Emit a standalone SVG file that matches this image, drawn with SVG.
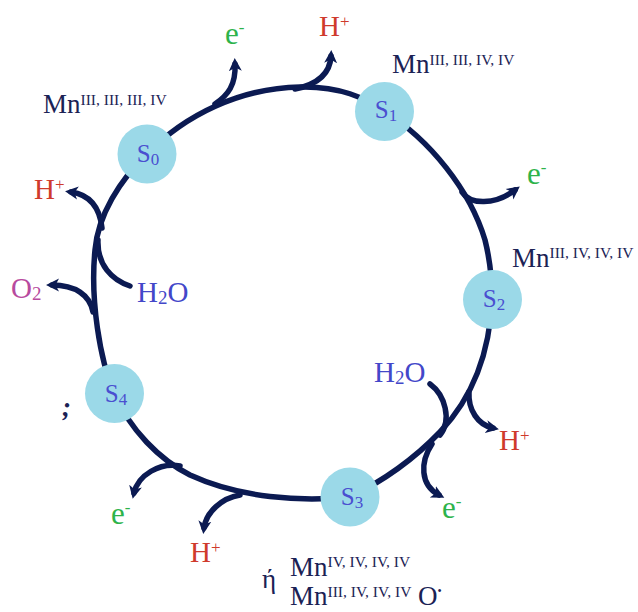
<svg xmlns="http://www.w3.org/2000/svg" width="638" height="612" viewBox="0 0 638 612">
<defs>
<style>
text{font-family:"Liberation Serif","Times New Roman",serif}
.ring{fill:none;stroke:#0b1a52;stroke-width:5.5;stroke-linecap:round}
.br{fill:none;stroke:#0b1a52;stroke-width:5.5;stroke-linecap:round;marker-end:url(#ah)}
.node{fill:#9bd9e8}
.sl{fill:#4a4fd0;font-size:25px}
.e{fill:#2db34b;font-size:31px}
.h{fill:#cf3a2c;font-size:29px}
.w{fill:#4347c9;font-size:29px}
.o{fill:#b84a9e;font-size:29px}
.mn{fill:#1b2255;font-size:27px}
</style>
<marker id="ah" markerUnits="userSpaceOnUse" markerWidth="16" markerHeight="16" refX="7" refY="7" orient="auto">
<path d="M0,0.5 L13,7 L0,13.5 L3.5,7 z" fill="#0b1a52"/>
</marker>
</defs>
<g id="connectors">
<path class="ring" d="M147,154 C185,115 240,88 300,87 C340,86 365,98 384,111"/>
<path class="ring" d="M384,111 C430,140 470,190 485,240 C490,260 492,280 492,299"/>
<path class="ring" d="M492,299 C490,350 475,395 440,432 C415,458 385,480 350,497"/>
<path class="ring" d="M350,497 C300,502 240,498 190,475 C160,460 130,430 114,393"/>
<path class="ring" d="M114,393 C100,360 90,300 95,250 C98,215 120,180 147,154"/>
<path class="br" d="M215,104 C228,95 236,85 235,64"/>
<path class="br" d="M295,89 C315,85 330,75 331,56"/>
<path class="br" d="M462,192 C470,205 495,205 515,190"/>
<path class="ring" d="M430,384 C445,395 452,420 440,435"/>
<path class="br" d="M432,444 C420,462 420,485 439,495"/>
<path class="br" d="M469,392 C468,410 478,425 493,428"/>
<path class="br" d="M180,466 C160,462 138,475 134,493"/>
<path class="br" d="M240,495 C222,498 206,512 204,528"/>
<path class="br" d="M93,312 C90,295 75,285 52,285"/>
<path class="ring" d="M130,286 C112,280 97,265 98,240"/>
<path class="br" d="M102,228 C100,210 92,195 71,192"/>
</g>
<g id="S0"><circle class="node" cx="147" cy="154" r="29.5"/><text class="sl" x="148" y="162" text-anchor="middle">S<tspan font-size="17" dy="3">0</tspan></text></g>
<g id="S1"><circle class="node" cx="384.5" cy="111.5" r="29.5"/><text class="sl" x="386" y="118" text-anchor="middle">S<tspan font-size="17" dy="3">1</tspan></text></g>
<g id="S2"><circle class="node" cx="492.5" cy="299.5" r="29.5"/><text class="sl" x="494" y="307" text-anchor="middle">S<tspan font-size="17" dy="3">2</tspan></text></g>
<g id="S3"><circle class="node" cx="350" cy="497" r="29.5"/><text class="sl" x="352" y="505" text-anchor="middle">S<tspan font-size="17" dy="3">3</tspan></text></g>
<g id="S4"><circle class="node" cx="114.5" cy="393.5" r="29.5"/><text class="sl" x="116" y="402" text-anchor="middle">S<tspan font-size="17" dy="3">4</tspan></text></g>
<g id="labels">
<text class="e" x="225" y="44">e<tspan font-size="17" dy="-11">-</tspan></text>
<text class="h" x="319" y="36">H<tspan font-size="17" dy="-9">+</tspan></text>
<text class="e" x="527" y="184">e<tspan font-size="17" dy="-11">-</tspan></text>
<text class="h" x="499" y="450">H<tspan font-size="17" dy="-9">+</tspan></text>
<text class="e" x="442" y="518">e<tspan font-size="17" dy="-11">-</tspan></text>
<text class="h" x="190" y="562">H<tspan font-size="17" dy="-9">+</tspan></text>
<text class="e" x="111" y="524">e<tspan font-size="17" dy="-11">-</tspan></text>
<text class="h" x="34" y="199">H<tspan font-size="17" dy="-9">+</tspan></text>
<text class="o" x="11" y="298">O<tspan font-size="19" dy="2">2</tspan></text>
<text class="w" x="137" y="302">H<tspan font-size="19" dy="2">2</tspan><tspan dy="-2">O</tspan></text>
<text class="w" x="374" y="382">H<tspan font-size="19" dy="2">2</tspan><tspan dy="-2">O</tspan></text>
<text class="mn" x="43" y="113">Mn<tspan font-size="15.5" dy="-8">III, III, III, IV</tspan></text>
<text class="mn" x="392" y="73">Mn<tspan font-size="15.5" dy="-8">III, III, IV, IV</tspan></text>
<text class="mn" x="512" y="267">Mn<tspan font-size="15.5" dy="-9">III, IV, IV, IV</tspan></text>
<text class="mn" x="290" y="576">Mn<tspan font-size="15.5" dy="-9">IV, IV, IV, IV</tspan></text>
<text class="mn" x="290" y="605">Mn<tspan font-size="15.5" dy="-8">III, IV, IV, IV</tspan><tspan dy="8"> O</tspan><tspan font-size="12" dy="-10">•</tspan></text>
<text class="mn" x="262" y="588" font-size="22">ή</text>
<text class="mn" x="62" y="416" font-style="italic" font-weight="bold" font-size="32">;</text>
</g>
</svg>
